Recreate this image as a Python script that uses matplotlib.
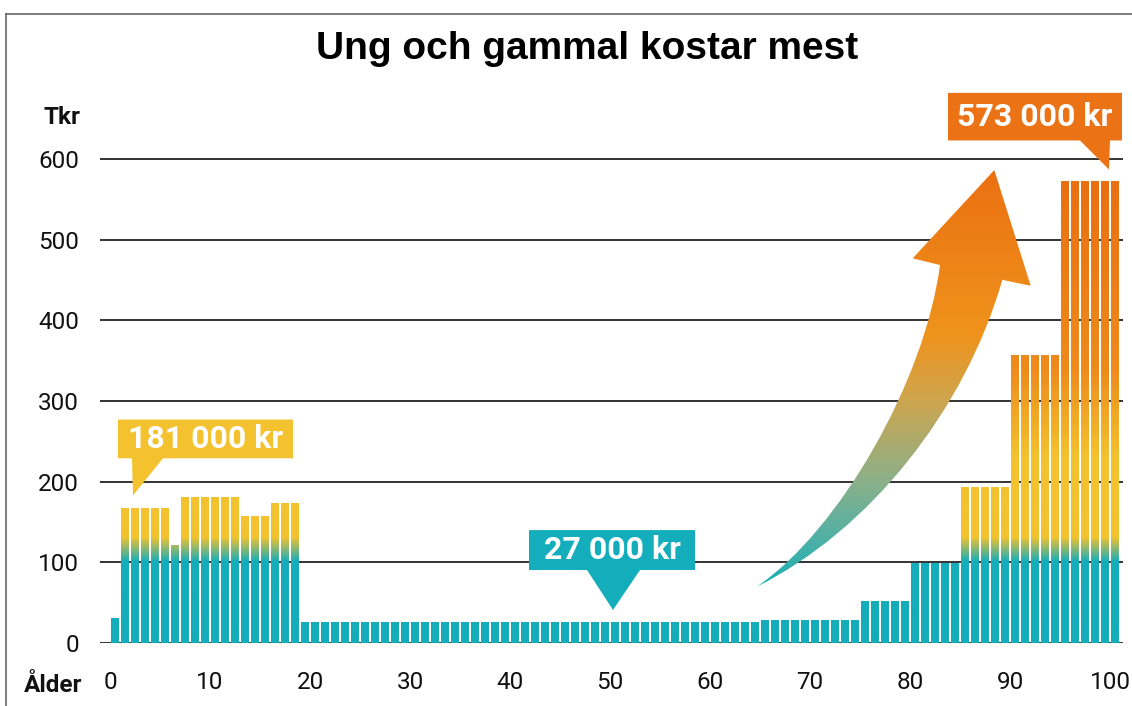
import numpy as np
import matplotlib

matplotlib.use("Agg")
import matplotlib.pyplot as plt
from matplotlib.colors import LinearSegmentedColormap
from matplotlib.lines import Line2D
from matplotlib.patches import Polygon
from matplotlib.path import Path

# Cost per person by age (thousand kr)
band_start = [0, 1, 6, 7, 13, 16, 19, 65, 75, 80, 85, 90, 95]
band_end = [0, 5, 6, 12, 15, 18, 64, 74, 79, 84, 89, 94, 100]
band_cost = [31, 168, 121, 181, 157, 174, 26, 29, 52, 99, 193, 357, 573]

ages = np.arange(band_start[0], band_end[-1] + 1)
cost = np.repeat(band_cost, np.array(band_end) - np.array(band_start) + 1)

y_ticks = [0, 100, 200, 300, 400, 500, 600]
x_ticks = [0, 10, 20, 30, 40, 50, 60, 70, 80, 90, 100]

title = "Ung och gammal kostar mest"
y_label = "Tkr"
x_label = "Ålder"
callout_texts = ["181 000 kr", "27 000 kr", "573 000 kr"]

TEAL = "#13adbb"
YELLOW = "#f3c22e"
ORANGE = "#ec7315"

# callout geometry in data units: box (x0, x1, ybot, ytop), pointer (xa, xb, tipx, tipy)
callouts = [
    dict(box=(0.8, 18.3, 229, 277), ptr=(2.2, 5.3, 2.3, 183), color=YELLOW),
    dict(box=(41.9, 58.5, 90.5, 140), ptr=(47.7, 53.0, 50.3, 41), color=TEAL),
    dict(box=(83.8, 101.2, 623, 682), ptr=(97.0, 100.0, 99.9, 587), color=ORANGE),
]

fig = plt.figure(figsize=(11.32, 7.06), dpi=100)
ax = fig.add_axes([100 / 1132, 0.0892, 1023 / 1132, 0.7884])

# bars: invisible rectangles used as clip path for a vertical colour gradient
bars = ax.bar(ages + 0.5, cost, width=0.76, color="none", linewidth=0)
bar_path = Path.make_compound_path(
    *[b.get_path().transformed(b.get_patch_transform()) for b in bars]
)
bar_cmap = LinearSegmentedColormap.from_list(
    "bars",
    [(0, TEAL), (100 / 600, TEAL), (130 / 600, YELLOW), (230 / 600, YELLOW),
     (340 / 600, "#ee8b1b"), (1.0, "#e96c10")],
)
grad = np.linspace(0, 1, 600).reshape(-1, 1)
img = ax.imshow(grad, extent=(-1, 101.3, 0, 600), origin="lower", aspect="auto",
                cmap=bar_cmap, zorder=2, interpolation="bilinear")
img.set_clip_path(bar_path, ax.transData)

# curved arrow
arrow_verts = [
    (64.67, 69.8), (73.0, 140.1), (81.5, 326.0), (83.0, 468.6),
    (80.27, 476.9), (88.43, 586.3), (92.07, 442.9), (89.23, 450.2),
    (85.5, 288.8), (76.0, 140.1), (64.67, 69.8), (64.67, 69.8),
]
arrow_codes = [Path.MOVETO, Path.CURVE4, Path.CURVE4, Path.CURVE4,
               Path.LINETO, Path.LINETO, Path.LINETO, Path.LINETO,
               Path.CURVE4, Path.CURVE4, Path.CURVE4, Path.CLOSEPOLY]
arrow_path = Path(arrow_verts, arrow_codes)
arrow_cmap = LinearSegmentedColormap.from_list(
    "arrow",
    [(0, "#17aeb5"), (0.12, "#4fb1a6"), (0.26, "#8db088"), (0.45, "#cfa54d"),
     (0.6, "#ef931c"), (1.0, "#eb6f11")],
)
arrow_img = ax.imshow(grad, extent=(60, 95, 65, 595), origin="lower", aspect="auto",
                      cmap=arrow_cmap, zorder=3, interpolation="bilinear")
arrow_img.set_clip_path(arrow_path, ax.transData)
ax.set_xlim(-1, 101.3)
ax.set_ylim(0, 690)

# grid and axes
ax.set_yticks(y_ticks)
ax.set_xticks(x_ticks)
ax.yaxis.grid(True, color="#333333", linewidth=1.4)
ax.set_axisbelow(True)
for s in ax.spines.values():
    s.set_visible(False)
ax.tick_params(axis="y", length=0, pad=15, labelsize=17.5)
ax.tick_params(axis="x", length=0, pad=20, labelsize=17.5)
for lab in ax.get_xticklabels() + ax.get_yticklabels():
    lab.set_fontfamily("Roboto")
    lab.set_color("#111111")

# callouts
for c, txt in zip(callouts, callout_texts):
    x0, x1, yb, yt = c["box"]
    xa, xb, tx, ty = c["ptr"]
    poly = Polygon([(x0, yt), (x1, yt), (x1, yb), (xb, yb), (tx, ty), (xa, yb), (x0, yb)],
                   closed=True, facecolor=c["color"], edgecolor="none",
                   zorder=5, clip_on=False)
    ax.add_patch(poly)
    ax.text((x0 + x1) / 2, (yb + yt) / 2, txt, ha="center", va="center",
            color="white", fontsize=23, fontweight="bold", family="Roboto",
            zorder=6, clip_on=False)

fig.text(0.5183, 1 - 49 / 706, title, ha="center", va="center", fontsize=28,
         fontweight="bold", family="Liberation Sans", color="black")
fig.text(80 / 1132, 1 - 118 / 706, y_label, ha="right", va="center", fontsize=17.5,
         fontweight="bold", family="Roboto", color="#111111")
fig.text(82 / 1132, 1 - 686 / 706, x_label, ha="right", va="center", fontsize=17.5,
         fontweight="bold", family="Roboto", color="#111111")

# thin frame along top and left
fig.add_artist(Line2D([6 / 1132, 6 / 1132], [0, 1 - 14 / 706],
                      transform=fig.transFigure, color="#666666", linewidth=1.2))
fig.add_artist(Line2D([6 / 1132, 1], [1 - 14 / 706, 1 - 14 / 706],
                      transform=fig.transFigure, color="#666666", linewidth=1.2))

fig.savefig("out.png", dpi=100)
